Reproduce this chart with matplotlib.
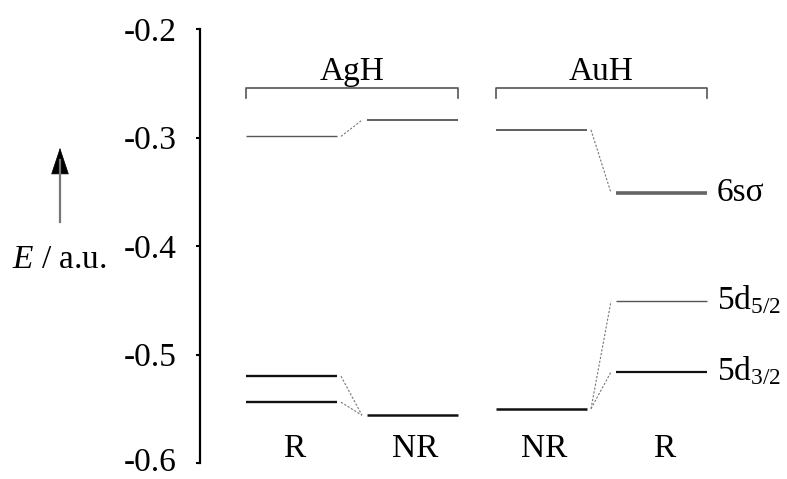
import matplotlib
matplotlib.use("Agg")
import matplotlib.pyplot as plt
import matplotlib.transforms as mtransforms

plt.rcParams['font.family'] = ['Liberation Serif', 'DejaVu Serif']
plt.rcParams['mathtext.fontset'] = 'custom'
plt.rcParams['mathtext.rm'] = 'Liberation Serif'
plt.rcParams['mathtext.it'] = 'Liberation Serif:italic'

# orbital energies (a.u.)
agh_r = [-0.299, -0.520, -0.544]
agh_nr = [-0.284, -0.556]
auh_nr = [-0.293, -0.550]
auh_r = [-0.351, -0.451, -0.516]

col_names = ['R', 'NR', 'NR', 'R']
groups = ['AgH', 'AuH']
orbital_labels = ['6sσ', r'5d$_{5/2}$', r'5d$_{3/2}$']
yticks = [-0.2, -0.3, -0.4, -0.5, -0.6]
ytick_labels = ['-0.2', '-0.3', '-0.4', '-0.5', '-0.6']

# which level connects to which (left column -> right column)
agh_links = [(0, 0), (1, 1), (2, 1)]
auh_links = [(0, 0), (1, 1), (1, 2)]

# layout (x in pixels from the axis line)
col_left = [46, 167, 296, 416]
col_w = 91

fig = plt.figure(figsize=(7.87, 4.79), dpi=100)
ax = fig.add_axes([200/787, 16/479, 587/787, 434/479])
ax.set_xlim(0, 587)
ax.set_ylim(-0.6, -0.2)

for s in ['top', 'right', 'bottom']:
    ax.spines[s].set_visible(False)
ax.spines['left'].set_linewidth(1.6)
ax.set_xticks([])
ax.set_yticks(yticks, ytick_labels)
ax.tick_params(axis='y', direction='out', length=3, width=1.5, pad=14, labelsize=24)

# nudge the bottom tick label up so it stays inside the picture
lowest = ax.get_yticklabels()[-1]
lowest.set_transform(lowest.get_transform() +
                     mtransforms.ScaledTranslation(0, 4/100, fig.dpi_scale_trans))

cols = [agh_r, agh_nr, auh_nr, auh_r]
styles = [
    [('#555555', 1.0), ('#111111', 1.7), ('#111111', 1.7)],
    [('#444444', 1.2), ('#111111', 1.8)],
    [('#444444', 1.2), ('#111111', 1.8)],
    [('#666666', 2.6), ('#555555', 1.0), ('#111111', 1.6)],
]
for i, levels in enumerate(cols):
    x0 = col_left[i]
    for e, (c, lw) in zip(levels, styles[i]):
        ax.plot([x0, x0 + col_w], [e, e], color=c, lw=lw, solid_capstyle='butt')

# dashed correlation lines
for (a, b), links in [((0, 1), agh_links), ((2, 3), auh_links)]:
    xa = col_left[a] + col_w + 4
    xb = col_left[b] - 5
    for i, j in links:
        ax.plot([xa, xb], [cols[a][i], cols[b][j]], color='#777777', lw=0.8,
                dashes=(2, 1.5))

# group brackets
for g, (a, b) in enumerate([(0, 1), (2, 3)]):
    x0 = col_left[a]
    x1 = col_left[b] + col_w
    ax.plot([x0, x0, x1, x1], [-0.2636, -0.2544, -0.2544, -0.2636],
            color='#555555', lw=1.2)
    ax.text((x0 + x1) / 2, -0.247, groups[g], ha='center', va='baseline',
            fontsize=24)

# column labels
for i, name in enumerate(col_names):
    ax.text(col_left[i] + col_w / 2 + 3, -0.5945, name, ha='center',
            va='baseline', fontsize=24, clip_on=False)

# orbital labels on the right
for e, lab in zip(auh_r, orbital_labels):
    ax.annotate(lab, (col_left[3] + col_w + 10, e), xytext=(0, -6),
                textcoords='offset points', ha='left', va='baseline',
                fontsize=24)

# energy arrow and label
fig.add_artist(plt.Line2D([60/787, 60/787], [1 - 222/479, 1 - 160/479],
                          color='#777777', lw=1.6))
ax.annotate('', xy=(60/787, 1 - 145/479), xytext=(60/787, 1 - 172/479),
            xycoords='figure fraction', textcoords='figure fraction',
            arrowprops=dict(arrowstyle='-|>,head_length=0.9,head_width=0.3',
                            color='black', lw=0.5, mutation_scale=20))
fig.text(12/787, 1 - 268/479, r'$E$ / a.u.', ha='left', va='baseline',
         fontsize=24)

fig.savefig('out.png', dpi=100)
